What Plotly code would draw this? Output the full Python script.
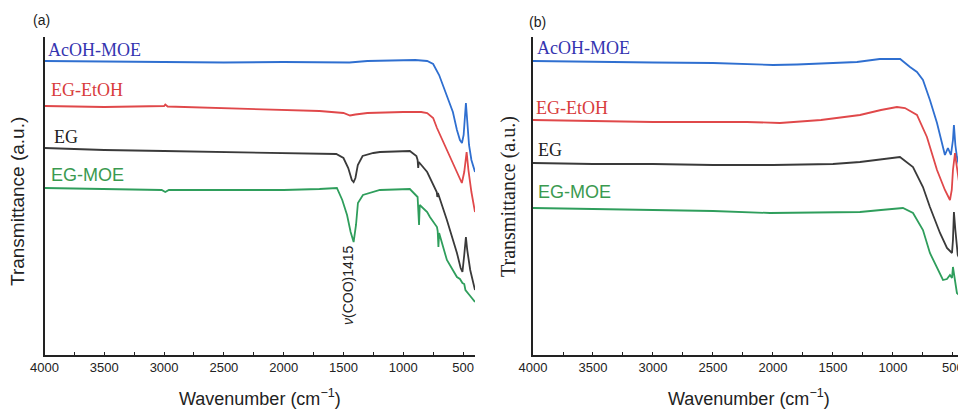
import plotly.graph_objects as go

W, H = 958, 409

# ---------------- Panel (a) data ----------------
a_blue_w = [4000,3500,3000,2700,2500,2000,1500,1450,1300,1000,900,800,750,700,668,635,610,585,551,526,509,495,476,465,450,430,400]
a_blue_t = [294,293.5,293,292.5,292.5,293,293,292.5,294,295,295,294,291,280,270,260,252,243,225,215,212,220,252,230,210,195,183]

a_red_w = [4000,3500,3000,2990,2970,2500,2000,1700,1500,1445,1400,1300,1000,850,800,750,718,680,635,590,551,526,510,490,470,455,430,400]
a_red_t = [249,248,249,250.5,248.5,247,245,244,242,239.5,240.5,242,243,243,242,237,227,217,205,193,182,175,172,183,203,185,163,143]

a_black_w = [4000,3500,3000,2500,2000,1700,1560,1500,1460,1430,1415,1400,1380,1340,1250,1195,1000,945,890,880,875,870,800,740,720,715,710,635,551,520,505,490,476,465,440,400]
a_black_t = [207,205,204,203,202,201,201,197,187,175,173,177,190,199,202,203,204,204,199,195,187,193,183,169,163,158,162,135,102,87,83,100,118,105,85,65]

a_green_w = [4000,3500,3020,2990,2960,2500,2000,1700,1555,1510,1470,1440,1415,1395,1379,1337,1195,945,890,880,868,862,800,777,718,712,706,700,635,551,526,505,490,480,440,400]
a_green_t = [167,166,165,163,165,165,165,166,167,155,140,123,113,130,152,160,165,166,160,158,130,150,143,138,128,124,108,122,95,78,76,72,71,65,59,53]

# ---------------- Panel (b) data ----------------
b_blue_w = [4000,3500,3000,2500,2000,1800,1500,1300,1110,940,858,800,750,692,633,592,567,542,517,500,492,480,467,440,400]
b_blue_t = [294,293,292.5,292,290,290.5,292,293,296,296,288,283,275,255,232,212,200,207,200,215,230,210,198,185,175]

b_red_w = [4000,3500,3000,2500,2217,1942,1600,1275,1100,967,900,800,717,633,567,525,510,500,483,470,440,400]
b_red_t = [235,234,233,233,233,232,235,240,245,248,247,240,218,185,165,155,165,185,202,190,165,145]

b_black_w = [4000,3500,3000,2500,2000,1500,1275,1100,942,833,750,692,608,550,508,500,492,480,460,400]
b_black_t = [192,191,191,190,190,191,193,196,198,188,168,148,122,107,102,115,143,125,100,85]

b_green_w = [4000,3500,3050,2500,2025,1700,1383,1275,1100,917,833,750,692,633,583,550,525,508,500,490,467,400]
b_green_t = [147,146,145,144,142,142.5,143,143,145,147,142,125,102,88,75,76,80,77,88,80,62,55]

series_names = ["AcOH-MOE", "EG-EtOH", "EG", "EG-MOE"]
line_colors = ["#2f6fd0", "#e0484a", "#3a3a3a", "#2f9e5c"]
label_colors = ["#3535b0", "#d83c3c", "#222222", "#3a9a50"]
label_fonts = ["Liberation Serif", "Liberation Serif", "Liberation Serif", "Liberation Sans"]

x_ticks = [4000, 3500, 3000, 2500, 2000, 1500, 1000, 500]

fig = go.Figure()
panel_a = [(a_blue_w, a_blue_t), (a_red_w, a_red_t), (a_black_w, a_black_t), (a_green_w, a_green_t)]
panel_b = [(b_blue_w, b_blue_t), (b_red_w, b_red_t), (b_black_w, b_black_t), (b_green_w, b_green_t)]
for i, (w, t) in enumerate(panel_a):
    fig.add_trace(go.Scatter(x=w, y=t, mode="lines", name=series_names[i],
                             line=dict(color=line_colors[i], width=1.8),
                             xaxis="x", yaxis="y", showlegend=False))
for i, (w, t) in enumerate(panel_b):
    fig.add_trace(go.Scatter(x=w, y=t, mode="lines", name=series_names[i],
                             line=dict(color=line_colors[i], width=1.8),
                             xaxis="x2", yaxis="y2", showlegend=False))

ydom = [54 / H, 372 / H]
xcommon = dict(showline=True, linecolor="#222", linewidth=1.5, showgrid=False, zeroline=False,
               automargin=False, ticklabeloverflow="allow",
               ticks="inside", ticklen=3, tickcolor="#222", tickvals=x_ticks,
               tickfont=dict(family="Liberation Sans, Arial", size=13, color="#222"),
               minor=dict(ticks="inside", ticklen=3, dtick=250, tickcolor="#222"))
ycommon = dict(showline=True, linecolor="#222", linewidth=1.5, showgrid=False, zeroline=False,
               automargin=False,
               showticklabels=False, ticks="", range=[0, 318], domain=ydom)

fig.update_layout(
    template="none",
    width=W, height=H, margin=dict(l=0, r=0, t=0, b=0, pad=0),
    plot_bgcolor="white", paper_bgcolor="white",
    xaxis=dict(domain=[44.5 / W, 475 / W], range=[4000, 400], anchor="y", **xcommon),
    xaxis2=dict(domain=[533 / W, 1.0], range=[4000, 458], anchor="y2", **xcommon),
    yaxis=dict(anchor="x", **ycommon),
    yaxis2=dict(anchor="x2", **ycommon),
)

def px(x, y):
    return x / W, 1 - y / H

ann = []
def add(text, x, y, size, color="#222", family="Liberation Sans, Arial", xanchor="center", angle=0):
    xp, yp = px(x, y)
    ann.append(dict(text=text, x=xp, y=yp, xref="paper", yref="paper", showarrow=False,
                    xanchor=xanchor, yanchor="middle", textangle=angle,
                    font=dict(family=family, size=size, color=color)))

# series labels
label_pos_a = [(46, 50), (49, 90), (52, 137), (49, 175)]
label_pos_b = [(535, 48), (534, 108), (536, 150), (536, 192)]
for i in range(4):
    add(series_names[i], *label_pos_a[i], 18, label_colors[i], label_fonts[i], xanchor="left")
    add(series_names[i], *label_pos_b[i], 18, label_colors[i], label_fonts[i], xanchor="left")

add("(a)", 41, 20, 14)
add("(b)", 537, 22, 14)
add("Transmittance (a.u.)", 18, 202, 19, angle=-90)
add("Transmittance (a.u.)", 508, 197, 20, family="Liberation Serif", angle=-90)
add("Wavenumber (cm<sup>−1</sup>)", 260, 397, 18)
add("Wavenumber (cm<sup>−1</sup>)", 749, 397, 18)
add("<i>ν</i>(COO)1415", 348, 285, 14, angle=-90)

fig.update_layout(annotations=ann)
fig.write_html("out.html")
